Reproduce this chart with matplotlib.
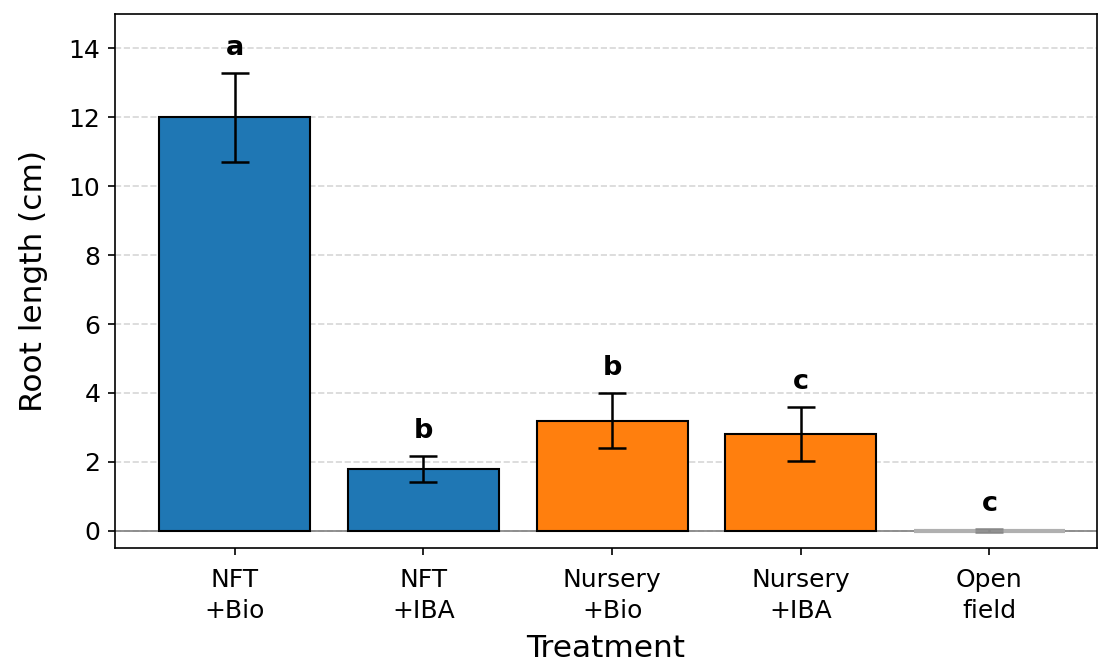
import numpy as np
import matplotlib
matplotlib.use('Agg')
import matplotlib.pyplot as plt

# root length per treatment (cm)
treatments = ['NFT\n+Bio', 'NFT\n+IBA', 'Nursery\n+Bio', 'Nursery\n+IBA', 'Open\nfield']
means = [12.0, 1.8, 3.2, 2.8, 0.0]
errors = [1.3, 0.38, 0.8, 0.78, 0.05]
letters = ['a', 'b', 'b', 'c', 'c']
bar_colors = ['#1f77b4', '#1f77b4', '#ff7f0e', '#ff7f0e', '#b0b0b0']
edge_colors = ['black', 'black', 'black', 'black', '#b0b0b0']
err_colors = ['black', 'black', 'black', 'black', '#888888']

fig = plt.figure(figsize=(1099 / 150, 664 / 150), dpi=150)
ax = fig.add_axes([115 / 1099, 1 - 548 / 664, 982 / 1099, (548 - 14) / 664])

x = np.arange(len(treatments))
bars = ax.bar(x, means, width=0.8, color=bar_colors, edgecolor=edge_colors, linewidth=1, zorder=2)
bars[-1].set_linewidth(2)  # zero-height bar shows as a grey line
for i in range(len(x)):
    ax.errorbar(x[i], means[i], yerr=errors[i], fmt='none', ecolor=err_colors[i],
                elinewidth=1.2, capsize=6.5, capthick=1.2, zorder=3)
    ax.text(x[i], means[i] + errors[i] + 0.35, letters[i], ha='center', va='bottom',
            fontsize=13, fontweight='bold')

ax.axhline(0, color='gray', linewidth=0.8, zorder=1)
ax.grid(axis='y', linestyle='--', color='#cccccc', alpha=0.8, zorder=0)
ax.set_axisbelow(True)

ax.set_xlim(-0.635, 4.57)
ax.set_ylim(-0.5, 15)
ax.set_yticks(range(0, 15, 2))
ax.set_xticks(x)
ax.set_xticklabels(treatments, fontsize=12, linespacing=1.4)
ax.tick_params(axis='x', pad=6)
ax.tick_params(axis='y', labelsize=12)
ax.set_xlabel('Treatment', fontsize=15, labelpad=5)
ax.set_ylabel('Root length (cm)', fontsize=15, labelpad=10)

fig.savefig('out.png', dpi=150)
